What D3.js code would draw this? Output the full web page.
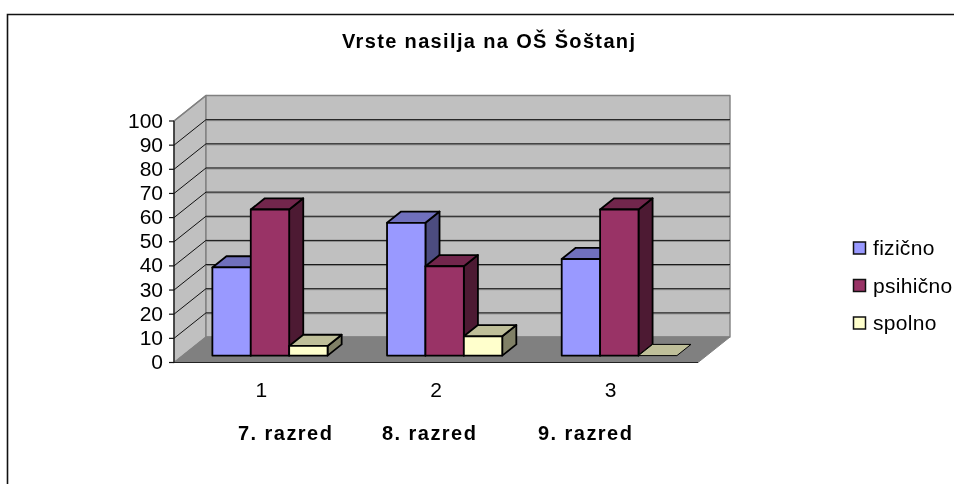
<!DOCTYPE html>
<html><head><meta charset="utf-8">
<script src="https://cdn.jsdelivr.net/npm/d3@7"></script>
<style>
html,body{margin:0;padding:0;background:#fff}
svg{display:block}
text{font-family:"Liberation Sans",Arial,sans-serif;fill:#000}
</style></head><body>
<div id="chart"></div>
<script>
const categories = ["1","2","3"];
const categoryNames = ["7. razred","8. razred","9. razred"];
const seriesNames = ["fizično","psihično","spolno"];
const fizicno = [36.5,55,40];
const psihicno = [60.5,37,60.5];
const spolno = [4,8,0];
const seriesValues = [fizicno,psihicno,spolno];
const seriesColors = ["#9999FF","#993366","#FFFFCC"];
const topColors = ["#7070BD","#72264C","#BFBF99"];
const sideColors = ["#4C4C80","#4D1A33","#808066"];
const yTicks = d3.range(0,101,10);
const title = "Vrste nasilja na OŠ Šoštanj";

const W=954,H=484;
const svg=d3.select("#chart").append("svg").attr("width",W).attr("height",H).attr("viewBox",[0,0,W,H]);
const x0=174,x1=698,y0=362.5,y100=121;
const wallDx=32,wallDy=-25.5;
const barOff=0.27, barDepth=0.44;
const x=d3.scaleBand().domain(categories).range([x0,x1]);
const y=d3.scaleLinear().domain([0,100]).range([y0,y100]);
const bw=38.4, gw=bw*3;
const g=svg.append("g").style("filter","blur(0.35px)");
const poly=(pts,f,s,sw)=>g.append("polygon").attr("points",pts.map(p=>p.join(",")).join(" ")).attr("fill",f).attr("stroke",s).attr("stroke-width",sw).attr("stroke-linejoin","round");

// chart frame (top and left only are visible in the crop)
g.append("path").attr("d",`M7.5,${H+5}V14.5H${W+5}`).attr("fill","none").attr("stroke","#111").attr("stroke-width",1.6);

// walls and floor
poly([[x0,y0],[x0,y100],[x0+wallDx,y100+wallDy],[x0+wallDx,y0+wallDy]],"#C0C0C0","#808080",1.4);
poly([[x0+wallDx,y0+wallDy],[x0+wallDx,y100+wallDy],[x1+wallDx,y100+wallDy],[x1+wallDx,y0+wallDy]],"#C0C0C0","#808080",1.4);

// gridlines
yTicks.forEach(t=>{
  if(t===100) return;
  const py=y(t);
  if(t>0){
    g.append("line").attr("x1",x0).attr("x2",x0+wallDx).attr("y1",py).attr("y2",py+wallDy).attr("stroke","#111").attr("stroke-width",1);
    g.append("line").attr("x1",x0+wallDx).attr("x2",x1+wallDx).attr("y1",py+wallDy+1).attr("y2",py+wallDy+1).attr("stroke","#888").attr("stroke-width",1);
    g.append("line").attr("x1",x0+wallDx).attr("x2",x1+wallDx).attr("y1",py+wallDy).attr("y2",py+wallDy).attr("stroke","#111").attr("stroke-width",1);
  }
});
poly([[x0,y0],[x1,y0],[x1+wallDx,y0+wallDy],[x0+wallDx,y0+wallDy]],"#808080","#808080",1);
g.append("line").attr("x1",x0).attr("x2",x0+wallDx).attr("y1",y(100)).attr("y2",y(100)+wallDy).attr("stroke","#808080").attr("stroke-width",1.4);
g.append("line").attr("x1",x0).attr("x2",x1).attr("y1",y0).attr("y2",y0).attr("stroke","#222").attr("stroke-width",1.2);

// y axis with ticks
const axis=g.append("g");
axis.append("line").attr("x1",x0).attr("x2",x0).attr("y1",y(100)).attr("y2",y0).attr("stroke","#111").attr("stroke-width",1.2);
yTicks.forEach(t=>{
  axis.append("line").attr("x1",x0-5).attr("x2",x0).attr("y1",y(t)).attr("y2",y(t)).attr("stroke","#111").attr("stroke-width",1.2);
  axis.append("text").attr("x",x0-11).attr("y",y(t)+6.5).attr("text-anchor","end").attr("font-size",21).text(t);
});

// 3D bars
categories.forEach((c,i)=>{
  const cx=x(c)+x.bandwidth()/2+wallDx*barOff;
  const base=y0+wallDy*barOff;
  const ddx=wallDx*barDepth, ddy=wallDy*barDepth;
  seriesValues.forEach((vals,s)=>{
    const l=cx-gw/2+s*bw, r=l+bw;
    const t=base-(y0-y(vals[i]));
    const sw=vals[i]===0?1:1.8;
    if(vals[i]>0){
      poly([[r,t],[r+ddx,t+ddy],[r+ddx,base+ddy],[r,base]],sideColors[s],"#000",sw);
    }
    poly([[l,t],[l+ddx,t+ddy],[r+ddx,t+ddy],[r,t]],topColors[s],"#000",sw);
    if(vals[i]>0){
      poly([[l,t],[r,t],[r,base],[l,base]],seriesColors[s],"#000",sw);
    }
  });
  g.append("text").attr("x",x(c)+x.bandwidth()/2).attr("y",397).attr("text-anchor","middle").attr("font-size",21).text(c);
});

// category names
const nameX=[238,382,538];
categoryNames.forEach((n,i)=>{
  g.append("text").attr("x",nameX[i]).attr("y",440).attr("font-size",20).attr("font-weight","bold").attr("letter-spacing",1.45).text(n);
});

// title
g.append("text").attr("x",342).attr("y",48).attr("font-size",20).attr("font-weight","bold").attr("letter-spacing",1.35).text(title);

// legend
seriesNames.forEach((n,i)=>{
  const ly=248+i*37.5;
  g.append("rect").attr("x",853.5).attr("y",ly-6).attr("width",12).attr("height",12).attr("fill",seriesColors[i]).attr("stroke","#111").attr("stroke-width",1.5);
  g.append("text").attr("x",873).attr("y",ly+7).attr("font-size",21).attr("letter-spacing",0.3).text(n);
});
</script></body></html>
